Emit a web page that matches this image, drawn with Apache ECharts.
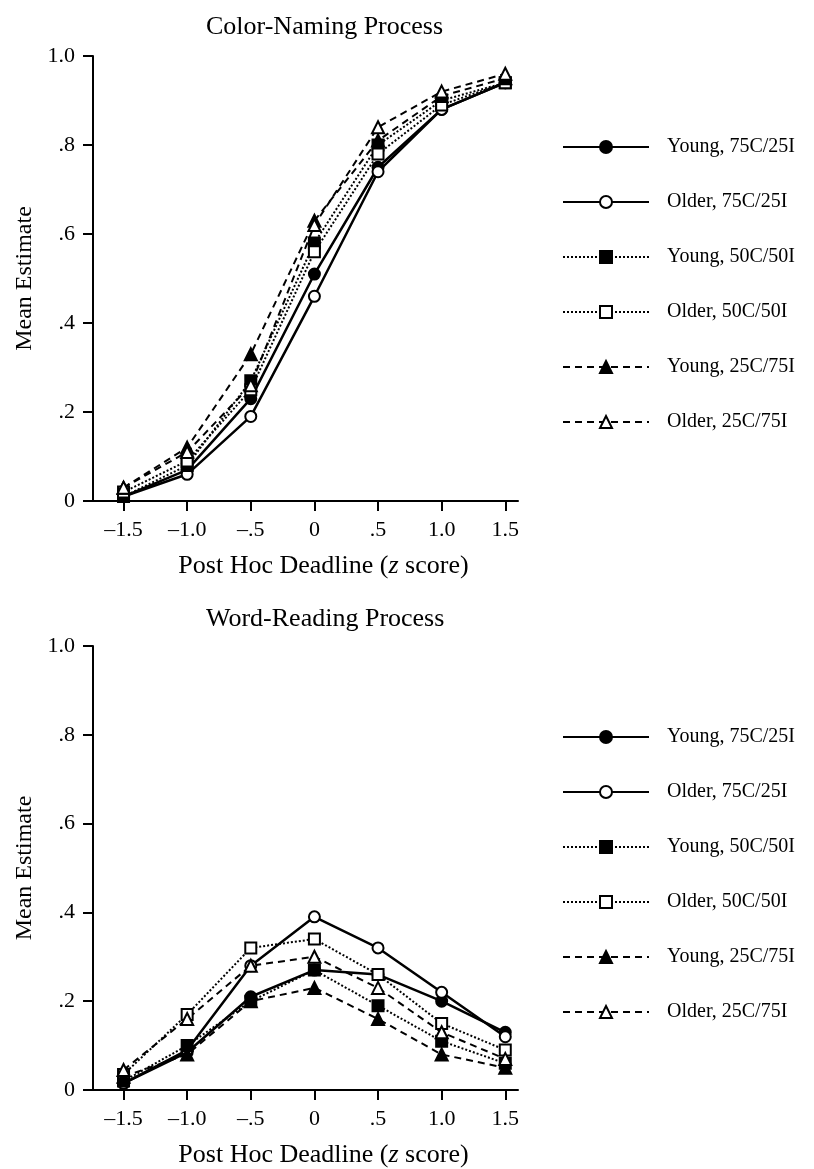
<!DOCTYPE html>
<html>
<head>
<meta charset="utf-8">
<script src="https://cdn.jsdelivr.net/npm/echarts@6/dist/echarts.min.js"></script>
<style>
  html, body { margin: 0; padding: 0; background: #fff; }
  #main { width: 814px; height: 1169px; }
</style>
</head>
<body>
<div id="main"></div>
<script>
// x positions (post hoc deadline, z score)
const deadlines = [-1.5, -1.0, -0.5, 0, 0.5, 1.0, 1.5]
const xTickLabels = ['\u20131.5', '\u20131.0', '\u2013.5', '0', '.5', '1.0', '1.5']
const yTickLabels = ['0', '.2', '.4', '.6', '.8', '1.0']
const seriesNames = ['Young, 75C/25I', 'Older, 75C/25I', 'Young, 50C/50I', 'Older, 50C/50I', 'Young, 25C/75I', 'Older, 25C/75I']

// Color-naming process
const colorYoung75 = [0.01, 0.07, 0.23, 0.51, 0.75, 0.88, 0.94]
const colorOlder75 = [0.01, 0.06, 0.19, 0.46, 0.74, 0.88, 0.94]
const colorYoung50 = [0.01, 0.08, 0.27, 0.58, 0.80, 0.90, 0.94]
const colorOlder50 = [0.02, 0.09, 0.25, 0.56, 0.78, 0.89, 0.94]
const colorYoung25 = [0.03, 0.12, 0.33, 0.63, 0.81, 0.91, 0.95]
const colorOlder25 = [0.03, 0.11, 0.26, 0.62, 0.84, 0.92, 0.96]

// Word-reading process
const wordYoung75 = [0.015, 0.085, 0.21, 0.27, 0.26, 0.20, 0.13]
const wordOlder75 = [0.015, 0.09, 0.28, 0.39, 0.32, 0.22, 0.12]
const wordYoung50 = [0.02, 0.10, 0.20, 0.27, 0.19, 0.11, 0.06]
const wordOlder50 = [0.035, 0.17, 0.32, 0.34, 0.26, 0.15, 0.09]
const wordYoung25 = [0.03, 0.08, 0.20, 0.23, 0.16, 0.08, 0.05]
const wordOlder25 = [0.045, 0.16, 0.28, 0.30, 0.23, 0.13, 0.07]

const FONT = "'Liberation Serif', 'Times New Roman', serif"

// marker / line style per condition
const styles = [
    { symbol: 'circle', size: 11, fill: '#000', line: 'solid', width: 2.5 },
    { symbol: 'circle', size: 11, fill: '#fff', line: 'solid', width: 2.5 },
    { symbol: 'rect', size: 11, fill: '#000', line: [2, 2], width: 2 },
    { symbol: 'rect', size: 11, fill: '#fff', line: [2, 2], width: 2 },
    { symbol: 'triangle', size: 12, fill: '#000', line: [7, 5], width: 2 },
    { symbol: 'triangle', size: 12, fill: '#fff', line: [7, 5], width: 2 }
]

function makeSeries (values, idx, gridIdx) {
    const st = styles[idx]
    return {
        name: seriesNames[idx],
        type: 'line',
        xAxisIndex: gridIdx,
        yAxisIndex: gridIdx,
        data: deadlines.map((x, i) => [x, values[i]]),
        symbol: st.symbol,
        symbolSize: st.size,
        showAllSymbol: true,
        lineStyle: { color: '#000', width: st.width, type: st.line },
        itemStyle: { color: st.fill, borderColor: '#000', borderWidth: 2 },
        emphasis: { disabled: true },
        animation: false
    }
}

function makeXAxis (gridIdx) {
    return {
        type: 'value',
        gridIndex: gridIdx,
        min: -1.74,
        max: 1.6,
        name: '{a|Post Hoc Deadline (}{i|z}{a| score)}',
        nameLocation: 'middle',
        nameGap: 52,
        nameTextStyle: {
            padding: [0, 0, 0, 36],
            rich: {
                a: { fontFamily: FONT, fontSize: 26, color: '#000' },
                i: { fontFamily: FONT, fontSize: 26, color: '#000', fontStyle: 'italic' }
            }
        },
        splitLine: { show: false },
        axisLine: { lineStyle: { color: '#000', width: 2 } },
        axisTick: { customValues: deadlines, length: 10, lineStyle: { color: '#000', width: 2 } },
        axisLabel: {
            customValues: deadlines,
            margin: 18,
            fontFamily: FONT,
            fontSize: 22,
            color: '#000',
            formatter: v => xTickLabels[deadlines.findIndex(d => Math.abs(d - v) < 1e-6)]
        }
    }
}

function makeYAxis (gridIdx) {
    return {
        type: 'value',
        gridIndex: gridIdx,
        min: 0,
        max: 1,
        interval: 0.2,
        name: 'Mean Estimate',
        nameLocation: 'middle',
        nameGap: 53,
        nameRotate: 90,
        nameTextStyle: { fontFamily: FONT, fontSize: 24, color: '#000' },
        splitLine: { show: false },
        axisLine: { onZero: false, lineStyle: { color: '#000', width: 2 } },
        axisTick: { length: 10, lineStyle: { color: '#000', width: 2 } },
        axisLabel: {
            margin: 18,
            fontFamily: FONT,
            fontSize: 22,
            color: '#000',
            formatter: v => yTickLabels[Math.round(v * 5)]
        }
    }
}

function makeLegend (top) {
    return {
        orient: 'vertical',
        left: 562,
        top: top,
        padding: 0,
        itemWidth: 86,
        itemHeight: 15,
        itemGap: 33,
        selectedMode: false,
        data: seriesNames,
        textStyle: { fontFamily: FONT, fontSize: 20, lineHeight: 22, color: '#000', padding: [0, 0, 0, 13] }
    }
}

const chart = echarts.init(document.getElementById('main'))
const option = {
    backgroundColor: '#fff',
    animation: false,
    title: [
        { text: 'Color-Naming Process', left: 201, top: 9, textStyle: { fontFamily: FONT, fontSize: 26, fontWeight: 'normal', color: '#000' } },
        { text: 'Word-Reading Process', left: 201, top: 601, textStyle: { fontFamily: FONT, fontSize: 26, fontWeight: 'normal', color: '#000' } }
    ],
    legend: [makeLegend(136), makeLegend(726)],
    grid: [
        { left: 93, top: 56, width: 425, height: 445 },
        { left: 93, top: 646, width: 425, height: 446 }
    ],
    xAxis: [makeXAxis(0), makeXAxis(1)],
    yAxis: [makeYAxis(0), makeYAxis(1)],
    series: [
        makeSeries(colorYoung75, 0, 0),
        makeSeries(colorOlder75, 1, 0),
        makeSeries(colorYoung50, 2, 0),
        makeSeries(colorOlder50, 3, 0),
        makeSeries(colorYoung25, 4, 0),
        makeSeries(colorOlder25, 5, 0),
        makeSeries(wordYoung75, 0, 1),
        makeSeries(wordOlder75, 1, 1),
        makeSeries(wordYoung50, 2, 1),
        makeSeries(wordOlder50, 3, 1),
        makeSeries(wordYoung25, 4, 1),
        makeSeries(wordOlder25, 5, 1)
    ]
}
chart.setOption(option)
</script>
</body>
</html>
